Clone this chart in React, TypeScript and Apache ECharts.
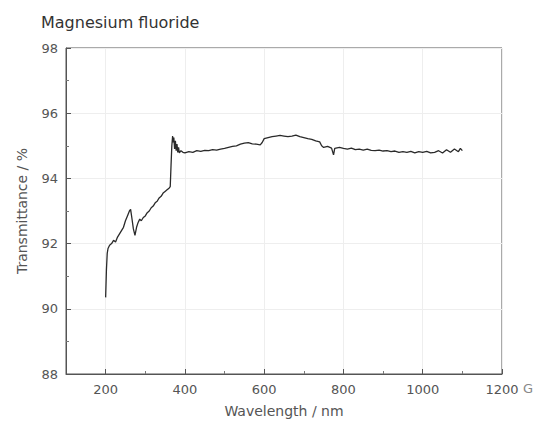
import React, { useEffect, useRef } from "react";
import * as echarts from "echarts";

const title = "Magnesium fluoride";
const xName = "Wavelength / nm";
const yName = "Transmittance / %";

const wavelength = [
  200, 202, 204, 206, 210, 215, 220, 225, 230, 235, 240, 245, 250, 255, 260, 263, 266, 270, 274, 278,
  282, 286, 290, 295, 300, 305, 310, 315, 320, 325, 330, 335, 340, 345, 350, 355, 360, 363, 365, 367,
  369, 371, 372, 374, 376, 378, 380, 382, 384, 386, 390, 395, 400, 410, 420, 430, 440, 450, 460, 470,
  480, 490, 500, 510, 520, 530, 540, 550, 560, 570, 580, 590, 595, 600, 610, 620, 630, 640, 650, 660,
  670, 680, 690, 700, 710, 720, 730, 740, 745, 750, 760, 770, 775, 778, 790, 800, 810, 820, 830, 840,
  850, 860, 870, 880, 890, 900, 910, 920, 930, 940, 950, 960, 970, 980, 990, 1000, 1010, 1020, 1030,
  1040, 1050, 1060, 1070, 1080, 1090, 1095, 1100,
];

const transmittance = [
  90.35, 91.2, 91.7, 91.85, 91.95, 92.0, 92.1, 92.05, 92.2, 92.3, 92.4, 92.5, 92.7, 92.85, 93.0, 93.05, 92.8, 92.45, 92.25, 92.5,
  92.65, 92.75, 92.7, 92.8, 92.85, 92.95, 93.0, 93.1, 93.15, 93.25, 93.3, 93.4, 93.45, 93.55, 93.6, 93.65, 93.7, 93.75, 94.4, 95.0,
  95.3, 95.1, 95.25, 94.9, 95.15, 94.85, 95.05, 94.8, 94.95, 94.78, 94.85, 94.8, 94.78, 94.82, 94.8, 94.85, 94.83, 94.86, 94.85, 94.88,
  94.87, 94.9, 94.92, 94.95, 94.98, 95.0, 95.05, 95.08, 95.1, 95.06, 95.05, 95.03, 95.1, 95.22, 95.25, 95.28, 95.3, 95.32, 95.3, 95.28,
  95.3, 95.33, 95.28, 95.25, 95.22, 95.2, 95.15, 95.12, 95.0, 94.95, 94.98, 94.93, 94.72, 94.92, 94.95, 94.92, 94.9, 94.93, 94.88, 94.9,
  94.87, 94.9, 94.86, 94.85, 94.87, 94.84, 94.85, 94.82, 94.84, 94.8, 94.82, 94.8, 94.83, 94.78, 94.82, 94.8, 94.83, 94.78, 94.8,
  94.85, 94.78, 94.88, 94.8, 94.9, 94.82, 94.92, 94.85,
];

const FONT = "'DejaVu Sans', sans-serif";

export default function App() {
  const ref = useRef<HTMLDivElement>(null);
  useEffect(() => {
    if (!ref.current) return;
    const chart = echarts.init(ref.current, null, { renderer: "svg" });
    const data = wavelength.map((w, i) => [w, transmittance[i]]);
    chart.setOption({
      animation: false,
      backgroundColor: "#ffffff",
      title: {
        text: title,
        left: 36,
        top: 9,
        textStyle: { fontFamily: FONT, fontSize: 16, fontWeight: "normal", color: "#333" },
      },
      grid: {
        left: 66,
        right: 36,
        top: 48,
        bottom: 54,
        show: true,
        borderColor: "#555",
        borderWidth: 1,
      },
      xAxis: {
        type: "value",
        min: 100,
        max: 1200,
        splitNumber: 5,
        name: xName,
        nameLocation: "middle",
        nameGap: 30,
        nameTextStyle: { fontFamily: FONT, fontSize: 14, color: "#555" },
        axisLine: { show: true, onZero: false, lineStyle: { color: "#555" } },
        axisTick: { show: true, inside: true, length: 5, lineStyle: { color: "#555" } },
        minorTick: { show: true, splitNumber: 2, length: 3, lineStyle: { color: "#777" } },
        axisLabel: {
          fontFamily: FONT,
          fontSize: 13,
          color: "#555",
          margin: 9,
          formatter: (v: number) => (v % 200 === 0 ? String(v) : ""),
        },
        splitLine: { show: true, lineStyle: { color: "#eeeeee" } },
      },
      yAxis: {
        type: "value",
        min: 88,
        max: 98,
        interval: 2,
        name: yName,
        nameLocation: "middle",
        nameGap: 37,
        nameTextStyle: { fontFamily: FONT, fontSize: 14, color: "#555" },
        axisLine: { show: true, lineStyle: { color: "#555" } },
        axisTick: { show: true, inside: true, length: 5, lineStyle: { color: "#555" } },
        minorTick: { show: true, splitNumber: 2, length: 3, lineStyle: { color: "#777" } },
        axisLabel: { fontFamily: FONT, fontSize: 13, color: "#555", margin: 8 },
        splitLine: { show: true, lineStyle: { color: "#eeeeee" } },
      },
      graphic: [
        {
          type: "text",
          left: 523,
          top: 382,
          style: { text: "G", font: `13px ${FONT}`, fill: "#888" },
        },
      ],
      series: [
        {
          type: "line",
          data,
          showSymbol: false,
          lineStyle: { color: "#2a2a2a", width: 1.3 },
        },
      ],
    });
    return () => chart.dispose();
  }, []);
  return (
    <div
      ref={ref}
      style={{ position: "fixed", left: 0, top: 0, width: 538, height: 428 }}
    />
  );
}
